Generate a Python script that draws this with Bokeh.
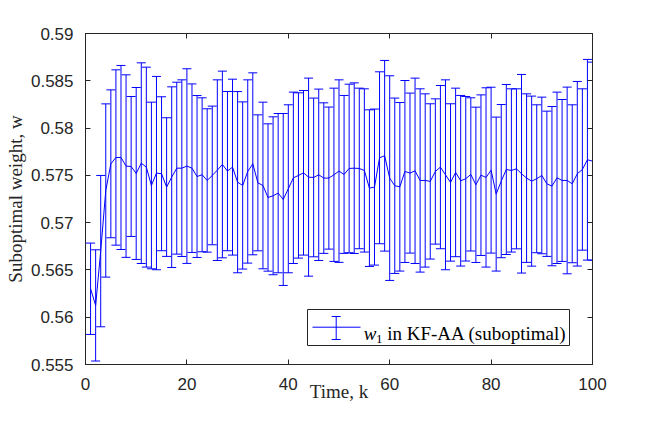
from bokeh.plotting import figure
from bokeh.models import (ColumnDataSource, LinearAxis, Label, BoxAnnotation, Arrow,
                          TeeHead, FixedTicker, Range1d, NumeralTickFormatter,
                          CustomLabelingPolicy)
from bokeh.embed import file_html
from bokeh.resources import INLINE

# ---------------- data ----------------
k = list(range(1, 101))
w_mean = [0.56301, 0.56125, 0.56699, 0.57340, 0.57622, 0.57689, 0.57689, 0.57598, 0.57594, 0.57520,
          0.57629, 0.57587, 0.57393, 0.57524, 0.57517, 0.57376, 0.57481, 0.57576, 0.57576, 0.57598,
          0.57576, 0.57488, 0.57506, 0.57446, 0.57499, 0.57555, 0.57615, 0.57545, 0.57587, 0.57428,
          0.57393, 0.57541, 0.57622, 0.57421, 0.57393, 0.57266, 0.57284, 0.57312, 0.57245, 0.57358,
          0.57474, 0.57499, 0.57527, 0.57481, 0.57478, 0.57506, 0.57471, 0.57471, 0.57506, 0.57545,
          0.57510, 0.57573, 0.57576, 0.57573, 0.57552, 0.57365, 0.57376, 0.57686, 0.57707, 0.57471,
          0.57390, 0.57379, 0.57541, 0.57524, 0.57548, 0.57446, 0.57446, 0.57436, 0.57541, 0.57587,
          0.57506, 0.57425, 0.57531, 0.57443, 0.57464, 0.57510, 0.57400, 0.57502, 0.57478, 0.57555,
          0.57302, 0.57439, 0.57562, 0.57552, 0.57569, 0.57517, 0.57471, 0.57439, 0.57464, 0.57499,
          0.57411, 0.57386, 0.57474, 0.57446, 0.57446, 0.57411, 0.57517, 0.57562, 0.57665, 0.57650]
w_err = [0.00483, 0.00588, 0.00800, 0.00916, 0.00782, 0.00927, 0.00973, 0.00965, 0.00740, 0.00909,
         0.01061, 0.01057, 0.00881, 0.01022, 0.00814, 0.00733, 0.00955, 0.00909, 0.00934, 0.01029,
         0.00891, 0.00856, 0.00814, 0.00758, 0.00733, 0.00955, 0.00987, 0.00842, 0.00930, 0.00958,
         0.00884, 0.00969, 0.00962, 0.00719, 0.00881, 0.00779, 0.00835, 0.00842, 0.00909, 0.00888,
         0.00906, 0.00874, 0.00870, 0.01047, 0.00839, 0.00906, 0.00796, 0.00751, 0.00916, 0.00965,
         0.00835, 0.00891, 0.00902, 0.00849, 0.00863, 0.00828, 0.00825, 0.00909, 0.01008, 0.01082,
         0.00927, 0.00891, 0.00962, 0.00846, 0.00980, 0.00969, 0.00916, 0.00821, 0.00768, 0.00863,
         0.01004, 0.00832, 0.00891, 0.00902, 0.00870, 0.00810, 0.00821, 0.00849, 0.00948, 0.00877,
         0.00814, 0.00810, 0.00899, 0.00863, 0.00846, 0.01050, 0.00891, 0.00899, 0.00782, 0.00828,
         0.00768, 0.00842, 0.00906, 0.00856, 0.00987, 0.00835, 0.00976, 0.00853, 0.01061, 0.01047]
x_ticks = [0, 20, 40, 60, 80, 100]
y_ticks = [0.555, 0.56, 0.565, 0.57, 0.575, 0.58, 0.585, 0.59]
y_tick_labels = ["0.555", "0.56", "0.565", "0.57", "0.575", "0.58", "0.585", "0.59"]
x_title = "Time, k"
y_title = "Suboptimal weight, w"
legend_parts = ["w", "1", "in KF-AA (suboptimal)"]

X0, X1 = 0, 100
Y0, Y1 = 0.555, 0.59

# ---------------- layout helpers (picture pixel -> data) ----------------
FL, FR, FT, FB = 85, 592, 33, 364
W, H = 638, 406
def dx(px):
    return X0 + (px - FL) * (X1 - X0) / (FR - FL)
def dy(py):
    return Y1 - (py - FT) * (Y1 - Y0) / (FB - FT)

AX = "#262626"
BLUE = "#0000ff"
TICK_FONT = "Liberation Sans"
SERIF = "Liberation Serif"

lower = [m - e for m, e in zip(w_mean, w_err)]
upper = [m + e for m, e in zip(w_mean, w_err)]
src = ColumnDataSource(dict(k=k, m=w_mean, lo=lower, hi=upper))

p = figure(width=W, height=H, x_range=Range1d(X0, X1), y_range=Range1d(Y0, Y1),
           output_backend="svg", toolbar_location=None,
           min_border_left=FL, min_border_right=W - FR, min_border_top=FT,
           min_border_bottom=H - FB)
p.background_fill_color = "white"
p.border_fill_color = "white"
p.outline_line_color = AX
p.outline_line_width = 1
p.xgrid.visible = False
p.ygrid.visible = False

p.add_layout(LinearAxis(), "above")
p.add_layout(LinearAxis(), "right")

for ax in p.xaxis:
    ax.ticker = FixedTicker(ticks=x_ticks)
for ax in p.yaxis:
    ax.ticker = FixedTicker(ticks=y_ticks)
    ax.formatter = NumeralTickFormatter(format="0.[000]")
    ax.major_label_overrides = {t: s for t, s in zip(y_ticks, y_tick_labels)}

for ax in p.axis:
    ax.major_tick_in = 5
    ax.major_tick_out = 0
    ax.minor_tick_line_color = None
    ax.axis_line_color = AX
    ax.major_tick_line_color = AX
    ax.major_label_text_font = TICK_FONT
    ax.major_label_text_font_size = "17px"
    ax.major_label_text_color = AX

# top / right axes: ticks only, no labels
for ax in (p.above[0], p.right[0]):
    ax.major_label_policy = CustomLabelingPolicy(
        code="for (const i of indices) { indices.unset(i) } return indices")
    ax.major_label_text_font_size = "1px"
    ax.major_label_standoff = 0

bx = p.below[0]
ly = p.left[0]
bx.major_label_standoff = 13
ly.major_label_standoff = 12
bx.axis_label = x_title
ly.axis_label = y_title
for ax in (bx, ly):
    ax.axis_label_text_font = SERIF
    ax.axis_label_text_font_size = "19px"
    ax.axis_label_text_font_style = "normal"
    ax.axis_label_text_color = AX
bx.axis_label_standoff = -12
ly.axis_label_standoff = 2

# ---------------- data marks ----------------
p.segment(x0="k", y0="lo", x1="k", y1="hi", source=src, line_color=BLUE, line_width=1)
p.scatter(x="k", y="lo", source=src, marker="dash", size=9, line_color=BLUE, line_width=1)
p.scatter(x="k", y="hi", source=src, marker="dash", size=9, line_color=BLUE, line_width=1)
p.line(x="k", y="m", source=src, line_color=BLUE, line_width=1)

# ---------------- legend ----------------
p.add_layout(BoxAnnotation(left=dx(307), right=dx(569), top=dy(309), bottom=dy(345),
                           fill_color="white", fill_alpha=1.0, line_color=AX, line_width=1,
                           line_alpha=1.0))
p.add_layout(Arrow(x_start=dx(312), y_start=dy(326.7), x_end=dx(360), y_end=dy(326.7),
                   start=None, end=None, line_color=BLUE, line_width=1))
p.add_layout(Arrow(x_start=dx(335.7), y_start=dy(339), x_end=dx(335.7), y_end=dy(316),
                   start=TeeHead(size=9, line_color=BLUE, line_width=1),
                   end=TeeHead(size=9, line_color=BLUE, line_width=1),
                   line_color=BLUE, line_width=1))
p.add_layout(Label(x=dx(363.3), y=dy(332.7), text=legend_parts[0], text_align="left",
                   text_baseline="alphabetic", text_font=SERIF, text_font_size="19px",
                   text_font_style="italic", text_color="black"))
p.add_layout(Label(x=dx(375.5), y=dy(338), text=legend_parts[1], text_align="left",
                   text_baseline="alphabetic", text_font=SERIF, text_font_size="13px",
                   text_color="black"))
p.add_layout(Label(x=dx(386.7), y=dy(332.7), text=legend_parts[2], text_align="left",
                   text_baseline="alphabetic", text_font=SERIF, text_font_size="19px",
                   text_color="black"))

open("out.html", "w").write(file_html(p, INLINE))
